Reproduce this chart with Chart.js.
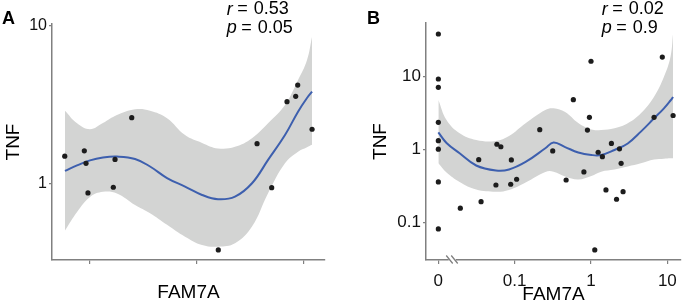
<!DOCTYPE html>
<html>
<head>
<meta charset="utf-8">
<script src="https://cdn.jsdelivr.net/npm/chart.js@4/dist/chart.umd.min.js"></script>
<style>
    html, body { margin: 0; padding: 0; background: #fff; }
    #wrap { position: relative; width: 685px; height: 303px; }
    #wrap canvas { position: absolute; top: 0; }
    #chartA { left: 0; }
    #chartB { left: 340px; }
</style>
</head>
<body>
<div id="wrap">
    <canvas id="chartA" width="340" height="303"></canvas>
    <canvas id="chartB" width="345" height="303"></canvas>
</div>
<script>
// ---- Panel A data ----
const aPointX = [0.764, 0.947, 0.963, 1.234, 0.981, 1.218, 1.390, 2.199, 2.561, 2.698, 2.841, 2.922, 2.941, 3.075];
const aPointY = [1.50, 1.62, 1.35, 1.43, 0.877, 0.953, 2.63, 0.382, 1.80, 0.947, 3.32, 3.59, 4.23, 2.22];

const aFitX = [0.766, 0.879, 1.0, 1.121, 1.252, 1.421, 1.561, 1.720, 1.888, 2.047, 2.196, 2.355, 2.514, 2.664, 2.822, 2.944, 3.028, 3.075];
const aFitY = [1.21, 1.31, 1.41, 1.47, 1.49, 1.44, 1.29, 1.09, 0.962, 0.852, 0.800, 0.831, 1.01, 1.42, 2.04, 2.87, 3.50, 3.84];
const aUpper = [2.91, 2.42, 2.22, 2.43, 2.73, 2.97, 2.91, 2.61, 2.04, 1.82, 1.68, 1.72, 1.95, 2.42, 3.16, 4.55, 6.09, 8.55];
const aLower = [0.506, 0.665, 0.828, 0.893, 0.871, 0.736, 0.653, 0.552, 0.464, 0.411, 0.401, 0.421, 0.537, 0.873, 1.35, 1.60, 1.71, 1.77];

const aXTicks = [1, 2, 3];
const aYTicks = [1, 10];

// ---- Panel B data ----
const bPointX = [0, 0, 0, 0, 0, 0, 0, 0,
    0.0194, 0.0338, 0.0363, 0.0568, 0.0585, 0.0659, 0.0887, 0.0904, 0.106, 0.213, 0.315, 0.472, 0.587,
    0.807, 0.898, 0.953, 1.00, 1.12, 1.24, 1.41, 1.57, 1.85, 2.16, 2.36, 2.48, 2.63, 6.70, 8.59, 11.9];
const bPointY = [38.6, 9.30, 7.15, 2.36, 1.32, 1.01, 0.358, 0.0809,
    0.156, 0.724, 0.192, 0.325, 1.18, 1.09, 0.333, 0.718, 0.390, 1.87, 0.954, 0.381, 4.83,
    0.491, 1.85, 2.77, 16.3, 0.0417, 0.916, 0.796, 0.278, 1.21, 0.207, 1.02, 0.646, 0.263, 2.77, 18.6, 2.93];

const bFitX = [0, 0.0128, 0.0190, 0.0313, 0.0568, 0.0843, 0.139, 0.252, 0.323, 0.458, 0.681, 1.01, 1.36, 2.03, 3.03, 4.50, 6.70, 9.03, 11.0, 11.9];
const bFitY = [1.72, 1.23, 0.887, 0.603, 0.515, 0.531, 0.674, 1.04, 1.25, 1.08, 0.909, 0.840, 0.840, 0.984, 1.21, 1.76, 2.68, 3.68, 4.71, 5.26];
const bUpper = [4.79, 2.54, 1.67, 1.35, 1.31, 1.53, 2.29, 3.49, 3.68, 3.27, 2.31, 1.88, 1.85, 1.96, 2.29, 3.14, 5.31, 10.0, 18.8, 39.5];
const bLower = [0.646, 0.483, 0.358, 0.282, 0.263, 0.278, 0.352, 0.491, 0.496, 0.426, 0.387, 0.432, 0.496, 0.531, 0.584, 0.646, 0.729, 0.748, 0.757, 0.757];

const bXTicks = [0, 0.1, 1, 10];
const bYTicks = [0.1, 1, 10];

// FAM7A = 0 sits one decade left of 0.1 on the log axis, after a break
const ZERO_AT = 0.01;
const BREAK_AT = 0.0152;
const mapZero = v => (v === 0 ? ZERO_AT : v);

const DOT = '#1c1c1c';
const LINE = '#3d5fae';
const BAND = '#d3d4d3';
const AXIS = '#808080';
const FONT = '"Liberation Sans", Arial, Helvetica, sans-serif';

Chart.defaults.font.family = FONT;
Chart.defaults.color = '#111';

function pairs(xs, ys, fx) {
    return xs.map(function(x, i) {
        return { x: fx ? fx(x) : x, y: ys[i] };
    });
}

function panelDatasets(px, py, fx, fy, up, lo, mapX) {
    return [
        { data: pairs(px, py, mapX), showLine: false, pointRadius: 2.6, pointBackgroundColor: DOT, pointBorderWidth: 0 },
        { data: pairs(fx, fy, mapX), borderColor: LINE, borderWidth: 2, pointRadius: 0, tension: 0.4, fill: false },
        { data: pairs(fx, up, mapX), borderColor: BAND, borderWidth: 0, pointRadius: 0, tension: 0.4, fill: '+1', backgroundColor: BAND },
        { data: pairs(fx, lo, mapX), borderColor: BAND, borderWidth: 0, pointRadius: 0, tension: 0.4, fill: false }
    ];
}

// panel letter + r / p annotation
const panelText = {
    id: 'panelText',
    afterDraw(chart, args, opts) {
        const ctx = chart.ctx;
        ctx.save();
        ctx.fillStyle = '#000';
        ctx.textBaseline = 'middle';
        ctx.font = 'bold 18px ' + FONT;
        ctx.fillText(opts.letter, opts.letterX, opts.letterY);

        opts.stats.forEach(function(s, i) {
            const y = opts.statY[i];
            ctx.font = 'italic 18px ' + FONT;
            ctx.fillText(s[0], opts.statX, y);
            const eqX = opts.statX + ctx.measureText(s[0]).width + 4.5;
            ctx.font = '18px ' + FONT;
            ctx.fillText('=', eqX, y);
            ctx.fillText(s[1], eqX + 16.5, y);
        });
        ctx.restore();
    }
};

// "//" break on the x axis between 0 and the log range
const axisBreak = {
    id: 'axisBreak',
    afterDraw(chart, args, opts) {
        if (!opts.at) return;
        const ctx = chart.ctx;
        const x = chart.scales.x.getPixelForValue(opts.at);
        const y = chart.chartArea.bottom;
        ctx.save();
        ctx.fillStyle = '#fff';
        ctx.fillRect(x - 3.5, y - 2, 7, 4);
        ctx.strokeStyle = AXIS;
        ctx.lineWidth = 1.3;
        ctx.beginPath();
        ctx.moveTo(x - 6, y - 4.5); ctx.lineTo(x + 0.5, y + 3.5);
        ctx.moveTo(x - 1, y - 4.5); ctx.lineTo(x + 5.5, y + 3.5);
        ctx.stroke();
        ctx.restore();
    }
};

function axisBase(tickFont, tickLen, tickPad) {
    return {
        bounds: 'data',
        border: { display: true, color: AXIS, width: 1.5 },
        grid: { drawOnChartArea: false, drawTicks: true, tickLength: tickLen, color: AXIS, lineWidth: 1.2 },
        ticks: { font: { size: tickFont }, color: '#111', padding: tickPad, autoSkip: false, maxRotation: 0 }
    };
}

function makeChart(id, cfg) {
    const xAxis = axisBase(cfg.xTickFont, 4, cfg.xTickPad);
    Object.assign(xAxis, {
        type: cfg.xType, min: cfg.xMin, max: cfg.xMax,
        afterBuildTicks: function(s) { s.ticks = cfg.xTicks.map(function(v) { return { value: v }; }); },
        afterFit: function(s) { s.height = cfg.xHeight; },
        title: { display: true, text: 'FAM7A', color: '#000', font: { size: 19, lineHeight: 0.8 }, padding: { top: 0, bottom: cfg.xTitlePad } }
    });
    xAxis.ticks.callback = cfg.xLabel;

    const yAxis = axisBase(cfg.yTickFont, 3, 2);
    Object.assign(yAxis, {
        type: 'logarithmic', min: cfg.yMin, max: cfg.yMax,
        afterBuildTicks: function(s) { s.ticks = cfg.yTicks.map(function(v) { return { value: v }; }); },
        afterFit: function(s) { s.width = cfg.yWidth; },
        title: { display: true, text: 'TNF', color: '#000', font: { size: 19, lineHeight: 0.8 }, padding: { top: cfg.yTitlePad, bottom: 0 } }
    });
    yAxis.ticks.callback = function(v) { return String(v); };

    return new Chart(document.getElementById(id), {
        type: 'line',
        data: { datasets: cfg.datasets },
        options: {
            responsive: false,
            animation: false,
            events: [],
            layout: { padding: cfg.padding },
            scales: { x: xAxis, y: yAxis },
            plugins: {
                legend: { display: false },
                tooltip: { enabled: false },
                panelText: cfg.text,
                axisBreak: { at: cfg.breakAt }
            }
        },
        plugins: [panelText, axisBreak]
    });
}

makeChart('chartA', {
    datasets: panelDatasets(aPointX, aPointY, aFitX, aFitY, aUpper, aLower),
    xType: 'linear', xMin: 0.645, xMax: 3.196, xTicks: aXTicks,
    xLabel: function() { return ''; },
    xTickFont: 16, xTickPad: 2, xHeight: 43, xTitlePad: 2.4,
    yMin: 0.33, yMax: 10.3, yTicks: aYTicks, yTickFont: 16, yWidth: 52, yTitlePad: 6.4,
    padding: { top: 24, right: 15, left: 0, bottom: 0 },
    text: { letter: 'A', letterX: 2, letterY: 19, statX: 226.7, statY: [9.5, 28], stats: [['r', '0.53'], ['p', '0.05']] },
    breakAt: null
});

makeChart('chartB', {
    datasets: panelDatasets(bPointX, bPointY, bFitX, bFitY, bUpper, bLower, mapZero),
    xType: 'logarithmic', xMin: 0.00689, xMax: 15.1, xTicks: bXTicks.map(mapZero),
    xLabel: function(v) { return v === ZERO_AT ? '0' : String(v); },
    xTickFont: 17, xTickPad: 7, xHeight: 43, xTitlePad: 0.4,
    yMin: 0.0303, yMax: 54.7, yTicks: bYTicks, yTickFont: 17, yWidth: 86, yTitlePad: 32.9,
    padding: { top: 23, right: 1, left: 0, bottom: 0 },
    text: { letter: 'B', letterX: 27, letterY: 19, statX: 261.7, statY: [9.5, 28], stats: [['r', '0.02'], ['p', '0.9']] },
    breakAt: BREAK_AT
});
</script>
</body>
</html>
